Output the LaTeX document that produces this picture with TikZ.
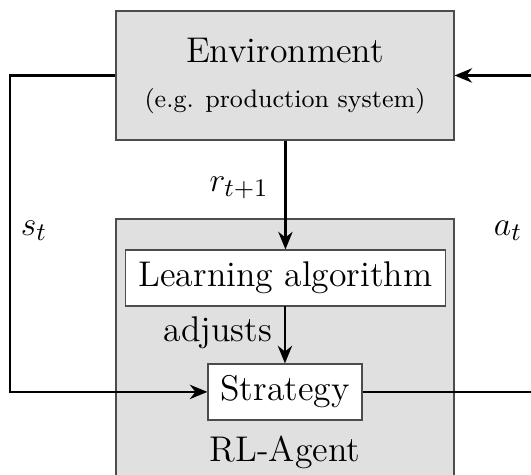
\documentclass[tikz,border=0pt]{standalone}
\usepackage{tikz}
\usetikzlibrary{positioning,arrows.meta}
\newcommand{\boxgray}{black!12}
\newcommand{\boxline}{black!70}
\newcommand{\mainsize}{\fontsize{12.7}{15}\selectfont}
\newcommand{\subsize}{\fontsize{9}{11}\selectfont}

\begin{document}
\begin{tikzpicture}[xscale=0.0125, yscale=-0.0125,
    bigbox/.style={draw=\boxline, fill=\boxgray, minimum width=4.225cm, inner sep=0pt},
    smallbox/.style={draw=\boxline, fill=white, minimum height=0.7cm, inner sep=0pt, font=\mainsize},
    flow/.style={thick, -{Stealth[length=2.2mm, width=1.8mm]}},
    lbl/.style={font=\mainsize}]
    \useasboundingbox (0,0) rectangle (531,474);
    %
    %agent (runs past the bottom edge)
    \node[bigbox, minimum height=3.3875cm] (agent) at (285,354.5) {};
    \node[lbl] (agentname) at (285,452) {RL-Agent};
    %
    %environment
    \node[bigbox, minimum height=1.6125cm, align=center] (env) at (285,75.5)
        {{\mainsize Environment}\\[4pt]{\subsize (e.g. production system)}};
    %
    %inner boxes
    \node[smallbox, minimum width=3.99cm] (learn) at (285.5,278) {Learning algorithm};
    \node[smallbox, minimum width=1.925cm] (strat) at (285,392) {Strategy};
    %
    %corners of the loop
    \coordinate (lcorner) at (10,75.5);
    \coordinate (rcorner) at (570,75.5);
    %
    %connectors
    \draw[flow] (env.west) -- (lcorner) |- (strat.west);
    \draw[flow] (strat.east) -| (rcorner) -- (env.east);
    \draw[flow] (env.south -| learn.north) -- (learn.north);
    \draw[flow] (learn.south -| strat.north) -- (strat.north);
    %
    %labels
    \node[lbl] (st) at (34,231) {$s_t$};
    \node[lbl] (at) at (508,231) {$a_t$};
    \node[lbl] (rew) at (239,188) {$r_{t+1}$};
    \node[lbl] (adj) at (218,333) {adjusts};
\end{tikzpicture}
\end{document}
